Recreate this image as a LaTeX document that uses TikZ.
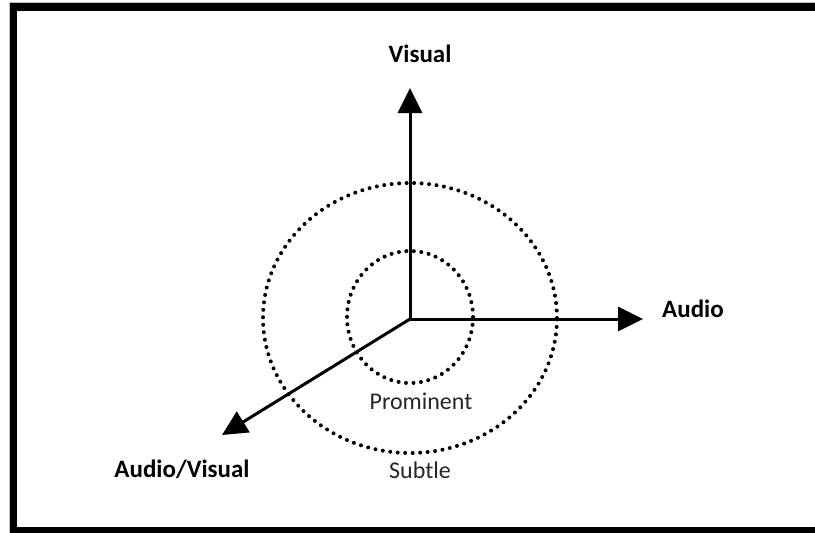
\documentclass[tikz,border=0pt]{standalone}
\usepackage{fontspec}
\setmainfont{Carlito}
\usetikzlibrary{arrows.meta}
\begin{document}
\begin{tikzpicture}[x=1pt,y=-1pt,
  axis/.style={line width=3pt,-{Triangle[length=25pt,width=24pt]}},
  dotring/.style={line width=4pt,line cap=round,dash pattern=on 0pt off 7.5pt},
  axlabel/.style={font=\fontsize{25}{30}\selectfont\bfseries,inner sep=0pt},
  ringlabel/.style={font=\fontsize{24}{29}\selectfont,text=black!85,inner sep=0pt}]
\useasboundingbox (0,0) rectangle (815,533);
\clip (0,0) rectangle (815,533);
\fill[white] (0,0) rectangle (815,533);
% frame
\draw[black!25,line width=1pt] (9,2) rectangle (840,540);
\draw[line width=7.5pt] (13.5,7) rectangle (840,531);
% origin and ends
\coordinate (o) at (410,319);
\coordinate (v) at (410,88);
\coordinate (a) at (643,319);
\coordinate (av) at (222,435);
% rings
\draw[dotring] (410,317) ellipse [x radius=63pt,y radius=66pt];
\draw[dotring] (410,318) ellipse [x radius=147pt,y radius=135pt];
% axes
\draw[axis] (o) -- (v);
\draw[axis] (o) -- (a);
\draw[axis] (o) -- (av);
% labels
\node[axlabel] (lv) at (420,54) {Visual};
\node[axlabel] (la) at (693,309) {Audio};
\node[axlabel] (lav) at (182,469) {Audio/Visual};
\node[ringlabel] (lp) at (421,401) {Prominent};
\node[ringlabel] (ls) at (420,470) {Subtle};
\end{tikzpicture}
\end{document}
